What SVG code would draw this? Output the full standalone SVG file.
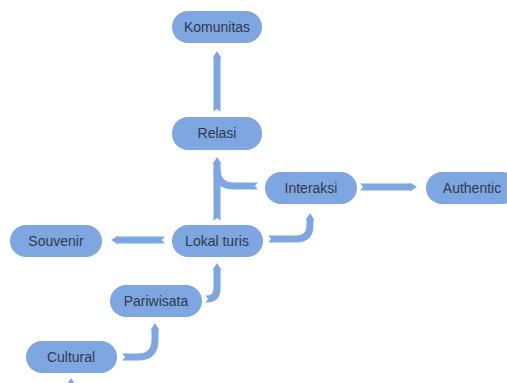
<svg xmlns="http://www.w3.org/2000/svg" width="507" height="383" viewBox="0 0 507 383">
<style>
.node rect{fill:#7EA6E0;stroke:none}
.node text{font-family:"Liberation Sans",Arial,sans-serif;font-size:14px;fill:#2f3b4c;text-anchor:middle}
.conn path{fill:none;stroke:#7EA6E0;stroke-width:7;marker-end:url(#head);marker-start:url(#tail)}
</style>
<defs>
<marker id="head" markerUnits="userSpaceOnUse" markerWidth="10" markerHeight="12" refX="0" refY="5" orient="auto" overflow="visible">
<path d="M0,0.5 L7,5 L0,9.5 Z" fill="#7EA6E0"/>
</marker>
<marker id="tail" markerUnits="userSpaceOnUse" markerWidth="6" markerHeight="12" refX="0" refY="5" orient="auto" overflow="visible">
<path d="M-0.5,0.5 L3,5 L-0.5,9.5 Z" fill="#ffffff"/>
</marker>
</defs>
<g id="connectors" class="conn">
<path d="M217,112 L217,58"/>
<path d="M217,221 L217,164"/>
<path d="M258,186 L234,186 Q217,186 217,169" style="marker-end:none"/>
<path d="M360,187 L410,187"/>
<path d="M165,240 L118,240"/>
<path d="M268,239 L296,239 Q310,239 310,225 L310,220"/>
<path d="M205,299 L207,299 Q217,299 217,288 L217,270"/>
<path d="M122,357 L138,357 Q155,357 155,340 L155,330"/>
<path d="M71,392 L71,385" style="marker-start:none"/>
</g>
<g id="komunitas" class="node"><rect x="172" y="11" width="90" height="32" rx="16"/><text x="217" y="32">Komunitas</text></g>
<g id="relasi" class="node"><rect x="172" y="117" width="90" height="33" rx="16"/><text x="217" y="138">Relasi</text></g>
<g id="interaksi" class="node"><rect x="265" y="172" width="92" height="32" rx="16"/><text x="311" y="193">Interaksi</text></g>
<g id="authentic" class="node"><rect x="426" y="172" width="92" height="32" rx="16"/><text x="472" y="193">Authentic</text></g>
<g id="souvenir" class="node"><rect x="10" y="225" width="92" height="32" rx="16"/><text x="56" y="246">Souvenir</text></g>
<g id="lokal-turis" class="node"><rect x="172" y="225" width="91" height="32" rx="16"/><text x="217" y="246">Lokal turis</text></g>
<g id="pariwisata" class="node"><rect x="110" y="285" width="92" height="32" rx="16"/><text x="156" y="306">Pariwisata</text></g>
<g id="cultural" class="node"><rect x="26" y="341" width="91" height="32" rx="16"/><text x="71" y="362">Cultural</text></g>
</svg>
